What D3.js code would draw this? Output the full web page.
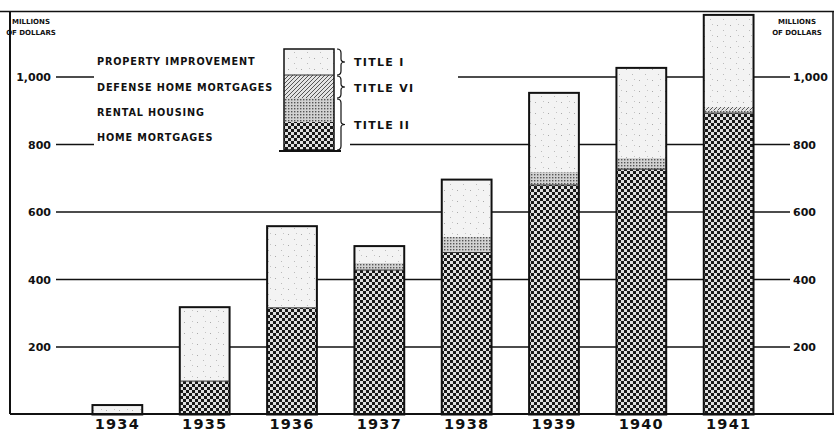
<!DOCTYPE html>
<html><head><meta charset="utf-8">
<script src="https://cdn.jsdelivr.net/npm/d3@7"></script>
<style>
html,body{margin:0;padding:0;background:#fff;}
svg{display:block;}
text{font-family:"DejaVu Sans",sans-serif;font-weight:bold;fill:#111;}
</style></head>
<body>
<script>
// ---- data (millions of dollars) ----
const years = ["1934","1935","1936","1937","1938","1939","1940","1941"];
const homeMortgages        = [0, 99, 316, 428, 480, 680, 727, 893];
const rentalHousing        = [0, 0, 0, 21, 47, 39, 33, 8];
const defenseHomeMortgages = [0, 0, 0, 0, 0, 0, 0, 10];
const propertyImprovement  = [28, 219, 242, 50, 169, 234, 267, 273];
const yTicks = [200, 400, 600, 800, 1000];
const yTickLabels = ["200", "400", "600", "800", "1,000"];
const legendLabels = ["PROPERTY IMPROVEMENT", "DEFENSE HOME MORTGAGES", "RENTAL HOUSING", "HOME MORTGAGES"];
const titleLabels = ["TITLE I", "TITLE VI", "TITLE II"];

const W = 837, H = 436;
const svg = d3.select("body").append("svg").attr("width", W).attr("height", H);

// patterns
const defs = svg.append("defs");
const pHM = defs.append("pattern").attr("id","pHM").attr("patternUnits","userSpaceOnUse").attr("width",6).attr("height",6);
pHM.append("rect").attr("width",6).attr("height",6).attr("fill","#e0e0e0");
pHM.append("rect").attr("width",3).attr("height",3).attr("fill","#1a1a1a");
pHM.append("rect").attr("x",3).attr("y",3).attr("width",3).attr("height",3).attr("fill","#1a1a1a");

const pR = defs.append("pattern").attr("id","pR").attr("patternUnits","userSpaceOnUse").attr("width",3).attr("height",3);
pR.append("rect").attr("width",3).attr("height",3).attr("fill","#d2d2d2");
pR.append("rect").attr("width",1.4).attr("height",1.4).attr("fill","#555");

const pD = defs.append("pattern").attr("id","pD").attr("patternUnits","userSpaceOnUse").attr("width",4).attr("height",4);
pD.append("rect").attr("width",4).attr("height",4).attr("fill","#e4e4e4");
pD.append("path").attr("d","M0,4 L4,0 M-1,1 L1,-1 M3,5 L5,3").attr("stroke","#555").attr("stroke-width",1);

const pPI = defs.append("pattern").attr("id","pPI").attr("patternUnits","userSpaceOnUse").attr("width",13).attr("height",11);
pPI.append("rect").attr("width",13).attr("height",11).attr("fill","#f3f3f3");
pPI.append("rect").attr("x",2).attr("y",3).attr("width",1).attr("height",1).attr("fill","#aaa");
pPI.append("rect").attr("x",8).attr("y",8).attr("width",1).attr("height",1).attr("fill","#bbb");
pPI.append("rect").attr("x",10).attr("y",2).attr("width",1).attr("height",1).attr("fill","#c4c4c4");

// scales
const x = d3.scaleBand().domain(years).range([75, 771]).paddingInner(0.43).paddingOuter(0.2);
const y = d3.scaleLinear().domain([0, 1000]).range([414.5, 77]);

// frame
const frame = svg.append("g").attr("stroke","#111").attr("fill","none");
frame.append("line").attr("x1",0).attr("x2",834).attr("y1",11.5).attr("y2",11.5).attr("stroke-width",1.5);
frame.append("line").attr("x1",10).attr("x2",10).attr("y1",11).attr("y2",414).attr("stroke-width",2);
frame.append("line").attr("x1",833).attr("x2",833).attr("y1",11).attr("y2",414).attr("stroke-width",1.5);

// gridlines (drawn across; bars and legend mask cover them)
svg.append("g").selectAll("line").data(yTicks).join("line")
  .attr("x1",56).attr("x2",790).attr("y1",d=>y(d)).attr("y2",d=>y(d))
  .attr("stroke","#111").attr("stroke-width",1.5);

// legend mask
svg.append("rect").attr("x",94).attr("y",40).attr("width",364).attr("height",102).attr("fill","#fff");
svg.append("rect").attr("x",94).attr("y",140).attr("width",256).attr("height",12).attr("fill","#fff");

// axis labels (y)
const yAxisL = d3.axisLeft(y).tickValues(yTicks).tickFormat((d,i)=>yTickLabels[i]).tickSize(0).tickPadding(0);
const gL = svg.append("g").attr("transform","translate(51,0)").call(yAxisL);
gL.select(".domain").remove();
gL.selectAll("text").attr("font-size",11).attr("font-family","DejaVu Sans").attr("font-weight","bold").attr("fill","#111").attr("dy","0.35em");

const yAxisR = d3.axisRight(y).tickValues(yTicks).tickFormat((d,i)=>yTickLabels[i]).tickSize(0).tickPadding(0);
const gR = svg.append("g").attr("transform","translate(793,0)").call(yAxisR);
gR.select(".domain").remove();
gR.selectAll("text").attr("font-size",11).attr("font-family","DejaVu Sans").attr("font-weight","bold").attr("fill","#111").attr("dy","0.35em");

// unit labels
[31, 797].forEach(cx => {
  svg.append("text").attr("x",cx).attr("y",24).attr("text-anchor","middle").attr("font-size",7).text("MILLIONS");
  svg.append("text").attr("x",cx).attr("y",35).attr("text-anchor","middle").attr("font-size",7).text("OF DOLLARS");
});

// stacked bars
const stackData = years.map((yr,i)=>({year:yr, hm:homeMortgages[i], rh:rentalHousing[i], dh:defenseHomeMortgages[i], pi:propertyImprovement[i]}));
const keys = ["hm","rh","dh","pi"];
const fills = {hm:"url(#pHM)", rh:"url(#pR)", dh:"url(#pD)", pi:"url(#pPI)"};
const series = d3.stack().keys(keys)(stackData);
const gb = svg.append("g");
series.forEach(s => {
  gb.append("g").selectAll("rect").data(s.filter(d=>d[1]>d[0])).join("rect")
    .attr("x", d=>x(d.data.year)).attr("width", x.bandwidth())
    .attr("y", d=>y(d[1])).attr("height", d=>y(d[0])-y(d[1]))
    .attr("fill", fills[s.key]);
});
// outlines
gb.append("g").selectAll("rect").data(stackData).join("rect")
  .attr("x", d=>x(d.year)).attr("width", x.bandwidth())
  .attr("y", d=>y(d.hm+d.rh+d.dh+d.pi)).attr("height", d=>y(0)-y(d.hm+d.rh+d.dh+d.pi))
  .attr("fill","none").attr("stroke","#111").attr("stroke-width",2);
// internal boundary at top of home mortgages
gb.append("g").selectAll("line").data(stackData.filter(d=>d.hm>0)).join("line")
  .attr("x1", d=>x(d.year)).attr("x2", d=>x(d.year)+x.bandwidth())
  .attr("y1", d=>y(d.hm)).attr("y2", d=>y(d.hm)).attr("stroke","#333").attr("stroke-width",1);

// x axis baseline
svg.append("line").attr("x1",10).attr("x2",834).attr("y1",414).attr("y2",414).attr("stroke","#111").attr("stroke-width",2);
const xAxis = d3.axisBottom(x).tickSize(0).tickPadding(0);
const gx = svg.append("g").attr("transform","translate(0,418)").call(xAxis);
gx.select(".domain").remove();
gx.selectAll("text").attr("font-size",14.5).attr("font-family","DejaVu Sans").attr("font-weight","bold")
  .attr("fill","#111").attr("letter-spacing","1.2px").attr("dy","0.75em");

// legend
const legKeys = ["pi","dh","rh","hm"];
const legY = [62, 88, 113, 138];
const swX = 284, swW = 50;
const swBounds = [[49,75],[75,98],[98,122],[122,150]];
const gLeg = svg.append("g");
legKeys.forEach((k,i)=>{
  gLeg.append("rect").attr("x",swX).attr("y",swBounds[i][0]).attr("width",swW).attr("height",swBounds[i][1]-swBounds[i][0]).attr("fill",fills[k]);
  gLeg.append("text").attr("x",97).attr("y",legY[i]).attr("dy","0.35em").attr("font-size",9.7).attr("letter-spacing","0.85px").text(legendLabels[i]);
});
gLeg.append("rect").attr("x",swX).attr("y",49).attr("width",swW).attr("height",101).attr("fill","none").attr("stroke","#111").attr("stroke-width",1.5);
gLeg.append("line").attr("x1",swX).attr("x2",swX+swW).attr("y1",75).attr("y2",75).attr("stroke","#333").attr("stroke-width",1);
gLeg.append("line").attr("x1",279).attr("x2",341).attr("y1",151).attr("y2",151).attr("stroke","#111").attr("stroke-width",2);
// braces
function brace(y0, y1) {
  const xb = 337, m = (y0+y1)/2;
  return `M${xb},${y0} Q${xb+4},${y0} ${xb+4},${y0+4} L${xb+4},${m-3} Q${xb+4},${m} ${xb+8},${m} Q${xb+4},${m} ${xb+4},${m+3} L${xb+4},${y1-4} Q${xb+4},${y1} ${xb},${y1}`;
}
[[49,75],[76,98],[99,150]].forEach(([a,b])=>{
  gLeg.append("path").attr("d",brace(a,b)).attr("fill","none").attr("stroke","#111").attr("stroke-width",1.2);
});
const titleY = [62, 88, 125];
titleLabels.forEach((t,i)=>{
  gLeg.append("text").attr("x",354).attr("y",titleY[i]).attr("dy","0.35em").attr("font-size",11).attr("letter-spacing","1.3px").text(t);
});
</script>
</body></html>
